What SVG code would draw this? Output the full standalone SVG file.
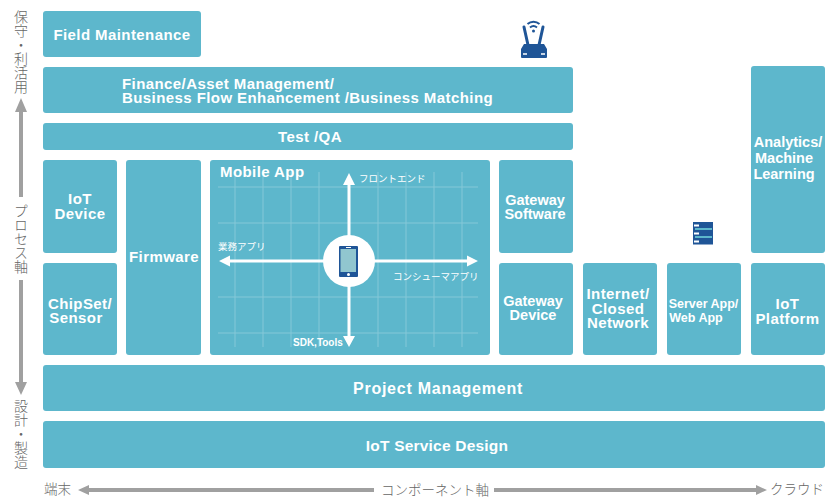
<svg xmlns="http://www.w3.org/2000/svg" width="834" height="497" viewBox="0 0 834 497">
<style>
.b{fill:#5db7cc}
.t{font-family:"Liberation Sans",Arial,sans-serif;font-weight:700;fill:#fff;text-anchor:middle;font-size:15px;letter-spacing:.42px}
.n{font-size:14.5px;letter-spacing:0}
.s{font-family:"Noto Sans CJK JP","Noto Sans",sans-serif;fill:#fff;font-size:9.5px}
.g{stroke:#85c8d8;stroke-width:1;fill:none}
.w{stroke:#fff;stroke-width:3;fill:none}
.a{stroke:#a0a0a0;stroke-width:4;fill:none}
.ah{fill:#a0a0a0}
.j{font-family:"Noto Sans CJK JP",sans-serif;fill:#666;font-size:13.500px;font-weight:300}
.v{font-size:14px;writing-mode:vertical-rl;text-anchor:start}
.d{fill:#1f5597}
</style>
<rect width="834" height="497" fill="#fff"/>
<g id="field-maintenance"><rect class="b" x="43" y="11" width="158" height="46" rx="3"/><text class="t" x="122" y="40">Field Maintenance</text></g>
<g id="finance"><rect class="b" x="43" y="67" width="530" height="46" rx="3"/><text class="t" x="122" y="89" style="text-anchor:start">Finance/Asset Management/</text><text class="t" x="122" y="103" style="text-anchor:start">Business Flow Enhancement /Business Matching</text></g>
<g id="test-qa"><rect class="b" x="43" y="123" width="530" height="27" rx="3"/><text class="t" x="310" y="142">Test /QA</text></g>
<g id="iot-device"><rect class="b" x="43" y="160" width="74" height="93" rx="3"/><text class="t" x="80" y="204">IoT</text><text class="t" x="80" y="219">Device</text></g>
<g id="chipset"><rect class="b" x="43" y="263" width="74" height="92" rx="3"/><text class="t" x="80" y="309">ChipSet/</text><text class="t" x="76" y="323">Sensor</text></g>
<g id="firmware"><rect class="b" x="126" y="160" width="75" height="195" rx="3"/><text class="t" x="164" y="262">Firmware</text></g>
<g id="mobile-app"><rect class="b" x="210" y="160" width="280" height="195" rx="3"/>
<path class="g" d="M235 172V347M263 172V347M291 172V347M319 172V347M378 172V347M406 172V347M434 172V347M462 172V347M218 187H478M218 223H478M218 297H478M218 333H478"/>
<text class="t" x="220" y="177" style="text-anchor:start">Mobile App</text>
<path class="w" d="M349 180V340M226 261H471"/>
<path fill="#fff" d="M349 173l6 12h-12zM349 347l-6-11h12zM219 261l11-5.500v11zM478 261l-11-5.500v11z"/>
<circle cx="349" cy="261" r="26" fill="#fff"/>
<rect class="d" x="339" y="246" width="19" height="31" rx="1"/><rect x="340.500" y="249" width="15.500" height="23" fill="#91c6cf"/><circle cx="348.500" cy="274.500" r="1.500" fill="#fff"/><rect x="346" y="247" width="5" height="1" fill="#fff"/>
<text class="s" x="359" y="182">フロントエンド</text><text class="s" x="218" y="250">業務アプリ</text><text class="s" x="393" y="280">コンシューマアプリ</text>
<text x="293" y="346" style="font-family:'Liberation Sans',Arial,sans-serif;font-weight:700;fill:#fff;font-size:10px">SDK,Tools</text>
</g>
<g id="gateway-software"><rect class="b" x="499" y="160" width="74" height="93" rx="3"/><text class="t n" x="535" y="205">Gateway</text><text class="t n" x="535" y="219">Software</text></g>
<g id="gateway-device"><rect class="b" x="499" y="263" width="74" height="92" rx="3"/><text class="t n" x="533" y="306">Gateway</text><text class="t n" x="533" y="320">Device</text></g>
<g id="internet"><rect class="b" x="583" y="263" width="74" height="92" rx="3"/><text class="t" x="618" y="299">Internet/</text><text class="t" x="618" y="314">Closed</text><text class="t" x="618" y="328">Network</text></g>
<g id="server-app"><rect class="b" x="667" y="263" width="74" height="92" rx="3"/><text class="t" x="703.500" y="308" style="font-size:12.500px;letter-spacing:0">Server App/</text><text class="t" x="696" y="322" style="font-size:12.500px;letter-spacing:0">Web App</text></g>
<g id="iot-platform"><rect class="b" x="751" y="263" width="74" height="92" rx="3"/><text class="t" x="787.500" y="309">IoT</text><text class="t" x="787.500" y="324">Platform</text></g>
<g id="analytics"><rect class="b" x="751" y="66" width="74" height="187" rx="3"/><text class="t n" x="788" y="147">Analytics/</text><text class="t n" x="784" y="163">Machine</text><text class="t n" x="784" y="179">Learning</text></g>
<g id="project-management"><rect class="b" x="43" y="365" width="782" height="46" rx="3"/><text class="t" x="438" y="394" style="font-size:16px;letter-spacing:.75px">Project Management</text></g>
<g id="iot-service-design"><rect class="b" x="43" y="421" width="782" height="47" rx="3"/><text class="t" x="437" y="451" style="font-size:15.500px;letter-spacing:.2px">IoT Service Design</text></g>
<g id="router-icon"><path class="d" d="M524 44H544L547 49V57a1 1 0 0 1-1 1H522a1 1 0 0 1-1-1V49Z"/>
<path d="M524 27l4 18M543 27l-4 18" stroke="#1f5597" stroke-width="3" stroke-linecap="round" fill="none"/>
<path d="M527.500 24a9 9 0 0 1 12 0M530 27.500a5.500 5.500 0 0 1 7 0" stroke="#1f5597" stroke-width="2" fill="none"/><circle cx="533.500" cy="31" r="1.500" class="d"/>
<path d="M523 54h4M541 54h4" stroke="#fff" stroke-width="1.500"/></g>
<g id="server-icon"><rect class="d" x="693" y="222" width="20" height="22.500"/>
<path d="M694 225.500h5M694 233.500h5M694 241.500h5" stroke="#fff" stroke-width="2"/><path d="M695 229h17M695 237h17" stroke="#5db7cc" stroke-width="2"/></g>
<g id="axes">
<path class="a" d="M21 110V197M21 280V385"/><path class="ah" d="M21 98l6 14h-12zM21 395l-6-13h12z"/>
<path class="a" d="M88 490H374M494 490H757"/><path class="ah" d="M78 490l11-5v10zM767 490l-11-5v10z"/>
</g>
<g id="axis-labels">
<text class="j v" x="21" y="10">保守・利活用</text>
<text class="j v" x="21" y="204">プロセス軸</text>
<text class="j v" x="21" y="399">設計・製造</text>
<text class="j" x="44" y="494">端末</text><text class="j" x="381" y="495">コンポーネント軸</text><text class="j" x="770" y="494">クラウド</text>
</g>
</svg>
